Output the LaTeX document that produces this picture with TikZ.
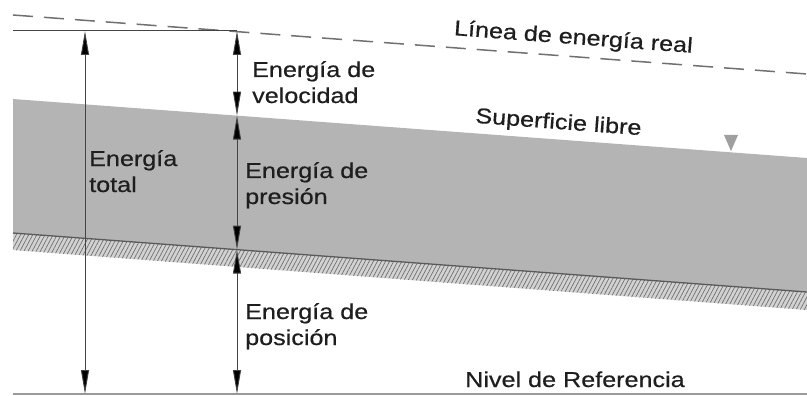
\documentclass[tikz,border=0pt]{standalone}
\usepackage{fontspec}
\newfontfamily\labfont{Liberation Sans}[FakeStretch=1.17,FakeBold=0.6]
\usetikzlibrary{arrows.meta,patterns.meta}
\definecolor{water}{HTML}{B4B4B4}
\definecolor{bedband}{HTML}{D2D2D2}
\definecolor{hatchc}{HTML}{707070}
\definecolor{vline}{HTML}{444444}
\definecolor{txt}{HTML}{1E1E1E}
\definecolor{dashc}{HTML}{707070}
\definecolor{refl}{HTML}{9A9A9A}
\tikzset{
  lab/.style={inner sep=0pt, text=txt, font=\labfont\fontsize{21.5}{26}\selectfont},
  dim/.style={draw=vline, line width=0.9pt,
    {Triangle[length=24pt,width=8pt,fill=black]}-{Triangle[length=24pt,width=8pt,fill=black]}},
}
\begin{document}
\begin{tikzpicture}[x=1pt,y=-1pt]
\useasboundingbox (0,0) rectangle (807,396);
% water body
\fill[water] (13,99) -- (807,158) -- (807,292) -- (13,233) -- cycle;
% hatched bed band
\fill[bedband] (13,233) -- (807,292) -- (807,310) -- (13,250) -- cycle;
\fill[pattern={Lines[angle=62,distance=3.6pt,line width=0.7pt]}, pattern color=hatchc]
  (13,233) -- (807,292) -- (807,310) -- (13,250) -- cycle;
\draw[hatchc!80!black, line width=1.3pt] (13,233) -- (807,292);
% energy line (dashed)
\draw[dashc, line width=1.5pt, dash pattern=on 20pt off 11pt] (13,15) -- (807,74);
% reference level
\draw[refl, line width=2pt] (13,394) -- (807,394);
% total energy horizontal
\draw[vline, line width=1pt] (13,31) -- (237,31);
% water level symbol
\fill[gray!75] (724,135) -- (738,135) -- (731,151) -- cycle;
% points
\coordinate (T1) at (85,31);
\coordinate (B1) at (85,394);
\coordinate (T2) at (237,31);
\coordinate (S2) at (237,115.6);
\coordinate (F2) at (237,249.6);
\coordinate (B2) at (237,394);
\draw[dim] (T1) -- (B1);
\draw[dim] (T2) -- (S2);
\draw[dim] (S2) -- (F2);
\draw[dim] (F2) -- (B2);
% labels
\node[lab, anchor=base west] (vel) at (252,77) {\begin{tabular}[t]{@{}l@{}}Energía de\\velocidad\end{tabular}};
\node[lab, anchor=base west] (tot) at (89,166) {\begin{tabular}[t]{@{}l@{}}Energía\\total\end{tabular}};
\node[lab, anchor=base west] (pre) at (245,178) {\begin{tabular}[t]{@{}l@{}}Energía de\\presión\end{tabular}};
\node[lab, anchor=base west] (pos) at (245,319) {\begin{tabular}[t]{@{}l@{}}Energía de\\posición\end{tabular}};
\node[lab, anchor=base, rotate=-4.25] (ler) at (573,44) {Línea de energía real};
\node[lab, anchor=base, rotate=-4.25] (sup) at (558,129) {Superficie libre};
\node[lab, anchor=base] (niv) at (575,387) {Nivel de Referencia};
\end{tikzpicture}
\end{document}
